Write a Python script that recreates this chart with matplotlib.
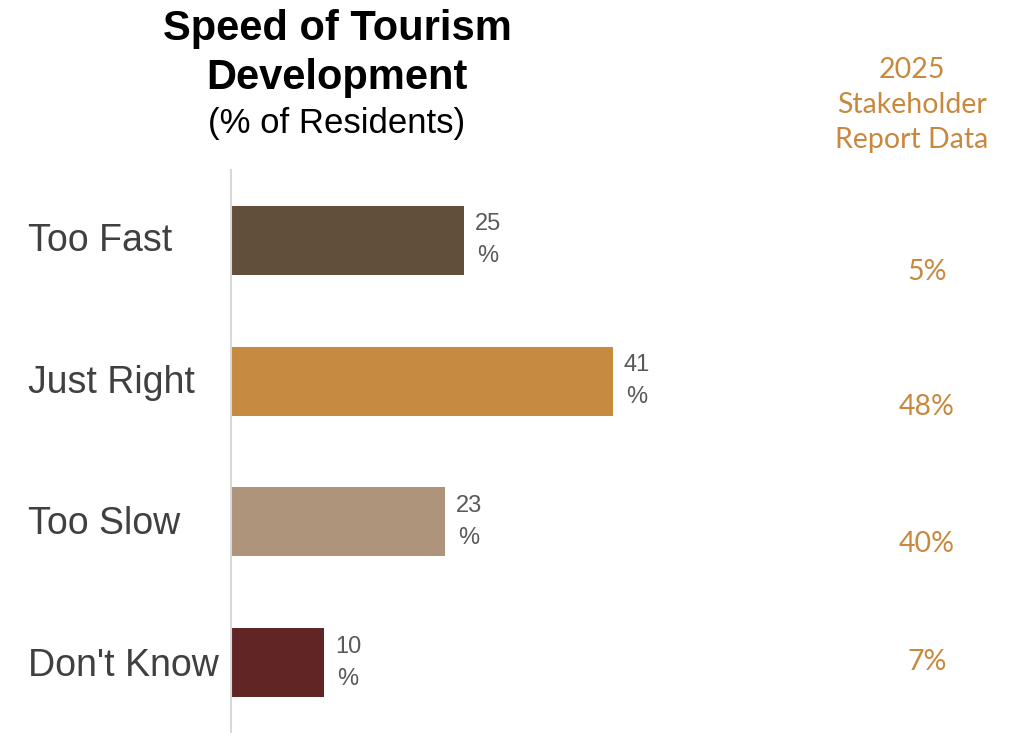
import matplotlib
matplotlib.use("Agg")
import matplotlib.pyplot as plt

categories = ["Too Fast", "Just Right", "Too Slow", "Don't Know"]
resident_pct = [25, 41, 23, 10]
stakeholder_pct = ["5%", "48%", "40%", "7%"]
bar_colors = ["#614F3B", "#C68A41", "#AE947A", "#622526"]
title_lines = ["Speed of Tourism", "Development"]
subtitle = "(% of Residents)"
side_header = "2025\nStakeholder\nReport Data"
side_y = [272, 407, 544, 662]  # pixel rows of stakeholder values

W, H = 1018, 733
fig = plt.figure(figsize=(W / 100, H / 100), dpi=100)
ax = fig.add_axes([231 / W, 0, 559 / W, (733 - 170) / H])

ypos = list(range(len(categories)))
ax.barh(ypos, resident_pct, height=0.49, color=bar_colors, left=0)
ax.set_xlim(0, 60)
ax.set_ylim(3.5, -0.5)
for s in ["top", "right", "bottom"]:
    ax.spines[s].set_visible(False)
ax.spines["left"].set_color("#D9D9D9")
ax.spines["left"].set_linewidth(1.5)
ax.set_xticks([])
ax.set_yticks([])

font = "Liberation Sans"
for y, v, c in zip(ypos, resident_pct, categories):
    ax.text(v + 1.15, y, f"{v}\n%", ha="left", va="center", fontsize=17,
            color="#595959", family=font, linespacing=1.6, multialignment="center")
    fig.text(28 / W, 1 - (241 + (y * 141.7)) / H, c, ha="left", va="center",
             fontsize=27, color="#404040", family=font)

for i, line in enumerate(title_lines):
    fig.text(337 / W, 1 - (29 + 49 * i) / H, line, ha="center", va="center",
             fontsize=30, fontweight="bold", color="black", family=font)
fig.text(337 / W, 1 - 123 / H, subtitle, ha="center", va="center",
         fontsize=25, color="black", family=font)

side_color = "#C8893F"
fig.text(912 / W, 1 - 105 / H, side_header, ha="center", va="center",
         fontsize=20.5, color=side_color, family="Lato", linespacing=1.42)
for yp, s in zip(side_y, stakeholder_pct):
    fig.text(927 / W, 1 - yp / H, s, ha="center", va="center",
             fontsize=20.5, color=side_color, family="Lato")

fig.savefig("out.png", dpi=100)
